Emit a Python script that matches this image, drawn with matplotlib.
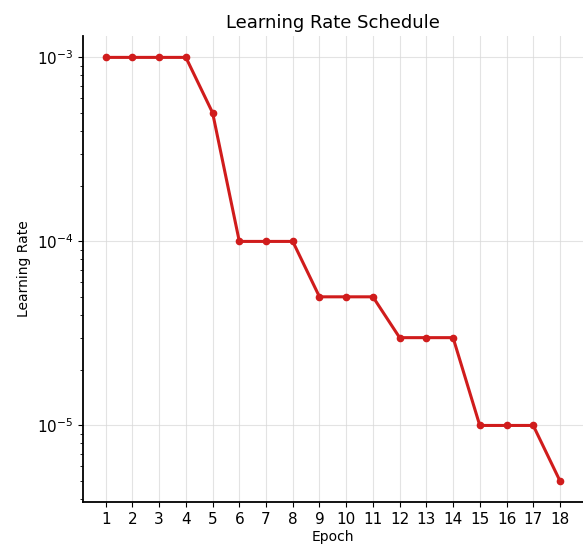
import matplotlib
matplotlib.use("Agg")
import matplotlib.pyplot as plt

# learning rate per epoch
epochs = list(range(1, 19))
learning_rates = [1e-3, 1e-3, 1e-3, 1e-3, 5e-4,
                  1e-4, 1e-4, 1e-4,
                  5e-5, 5e-5, 5e-5,
                  3e-5, 3e-5, 3e-5,
                  1e-5, 1e-5, 1e-5,
                  5e-6]

fig = plt.figure(figsize=(5.83, 5.48), dpi=100)
ax = fig.add_axes([0.1424, 0.0839, 0.857, 0.850])

ax.plot(epochs, learning_rates, color="#d01c1c", linewidth=2.2,
        marker="o", markersize=4.5)
ax.set_yscale("log")
ax.set_xticks(epochs)
ax.tick_params(axis="both", labelsize=11)

ax.set_title("Learning Rate Schedule", fontsize=13)
ax.set_xlabel("Epoch", fontsize=10, labelpad=2)
ax.set_ylabel("Learning Rate", fontsize=10)

ax.grid(True, which="major", color="#d8d8d8", linewidth=0.8, alpha=0.7)
ax.spines["top"].set_visible(False)
ax.spines["right"].set_visible(False)
ax.spines["left"].set_linewidth(1.3)
ax.spines["bottom"].set_linewidth(1.3)

fig.savefig("out.png", dpi=100)
